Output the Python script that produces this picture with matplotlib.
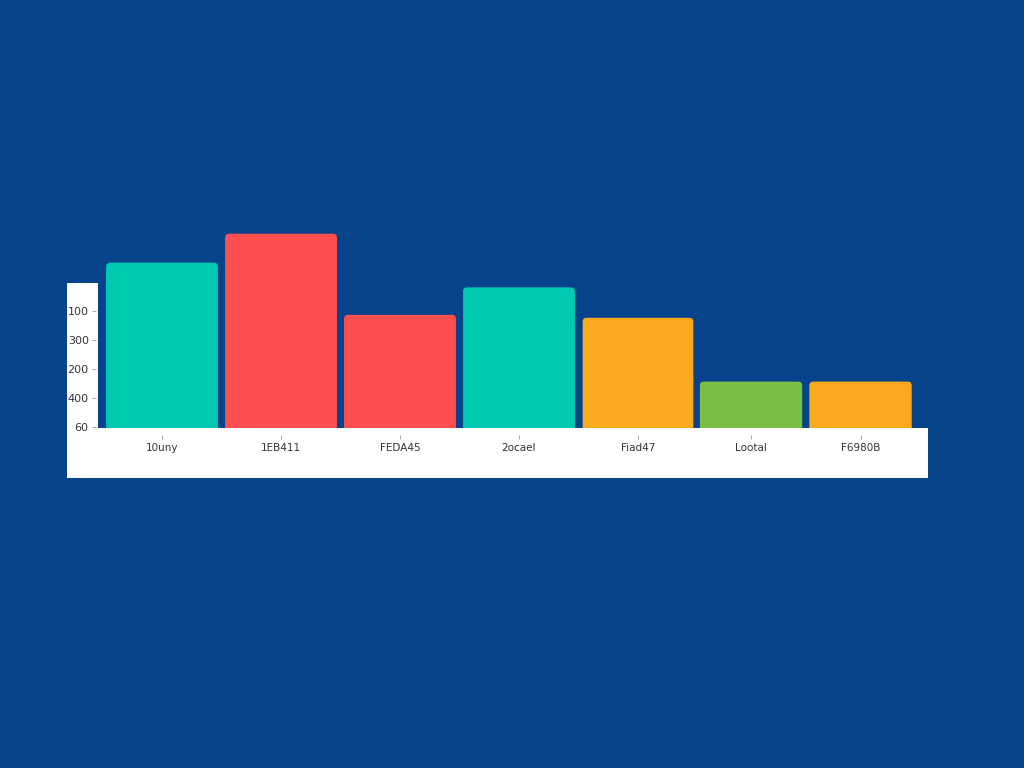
import matplotlib.pyplot as plt
from matplotlib.patches import FancyBboxPatch, Rectangle

# data
categories = ['10uny', '1EB411', 'FEDA45', '2ocael', 'Fiad47', 'Lootal', 'F6980B']
values = [570, 670, 390, 485, 380, 160, 160]
colors = ['#00C9B0', '#FD4F50', '#FD4F50', '#00C9B0', '#FBAA1E', '#7ABF43', '#FBAA1E']
ytick_vals = [5, 105, 205, 305, 405]
ytick_labels = ['60', '400', '200', '300', '100']

# layout (bar centres / widths in slot units)
bar_x = [0, 1, 2, 3, 4, 4.95, 5.87]
bar_w = [0.94, 0.94, 0.94, 0.94, 0.93, 0.86, 0.86]

bg = '#06438B'
W, H = 1024, 768


def main():
    fig = plt.figure(figsize=(W / 100, H / 100), dpi=100, facecolor=bg)

    # white panels behind the axes
    fig.patches.append(Rectangle((67 / W, 1 - 478 / H), 31 / W, 195 / H,
                                 transform=fig.transFigure, facecolor='white',
                                 edgecolor='none', zorder=-1))
    fig.patches.append(Rectangle((67 / W, 1 - 478 / H), 861 / W, 50 / H,
                                 transform=fig.transFigure, facecolor='white',
                                 edgecolor='none', zorder=-1))

    left, right, bottom, top = 104, 918, 428, 200
    slot = 119.0
    ax = fig.add_axes([left / W, 1 - bottom / H, (right - left) / W, (bottom - top) / H])
    ax.set_facecolor('none')
    ax.set_xlim((left - 162) / slot, (right - 162) / slot)
    ymax = (bottom - top) / 0.29
    ax.set_ylim(0, ymax)

    # rounded bars
    px_x = 1 / slot
    px_y = ymax / (bottom - top)
    r = 4 * px_x
    for x, w, v, c in zip(bar_x, bar_w, values, colors):
        p = FancyBboxPatch((x - w / 2, -30), w, v + 30,
                           boxstyle=f'round,pad=0,rounding_size={r}',
                           mutation_aspect=px_y / px_x,
                           facecolor=c, edgecolor='none')
        ax.add_patch(p)

    for s in ax.spines.values():
        s.set_visible(False)

    ax.spines['left'].set_position(('outward', 6))
    ax.spines['bottom'].set_position(('outward', 5))
    ax.set_yticks(ytick_vals)
    ax.set_yticklabels(ytick_labels)
    ax.set_xticks(bar_x)
    ax.set_xticklabels(categories)
    ax.tick_params(axis='y', length=3, width=0.6, color='#999999', pad=2,
                   labelsize=8, labelcolor='#333333')
    ax.tick_params(axis='x', length=3, width=0.6, color='#999999', pad=3,
                   labelsize=7.5, labelcolor='#333333')

    fig.savefig('out.png', dpi=100, facecolor=bg)


if __name__ == '__main__':
    main()
